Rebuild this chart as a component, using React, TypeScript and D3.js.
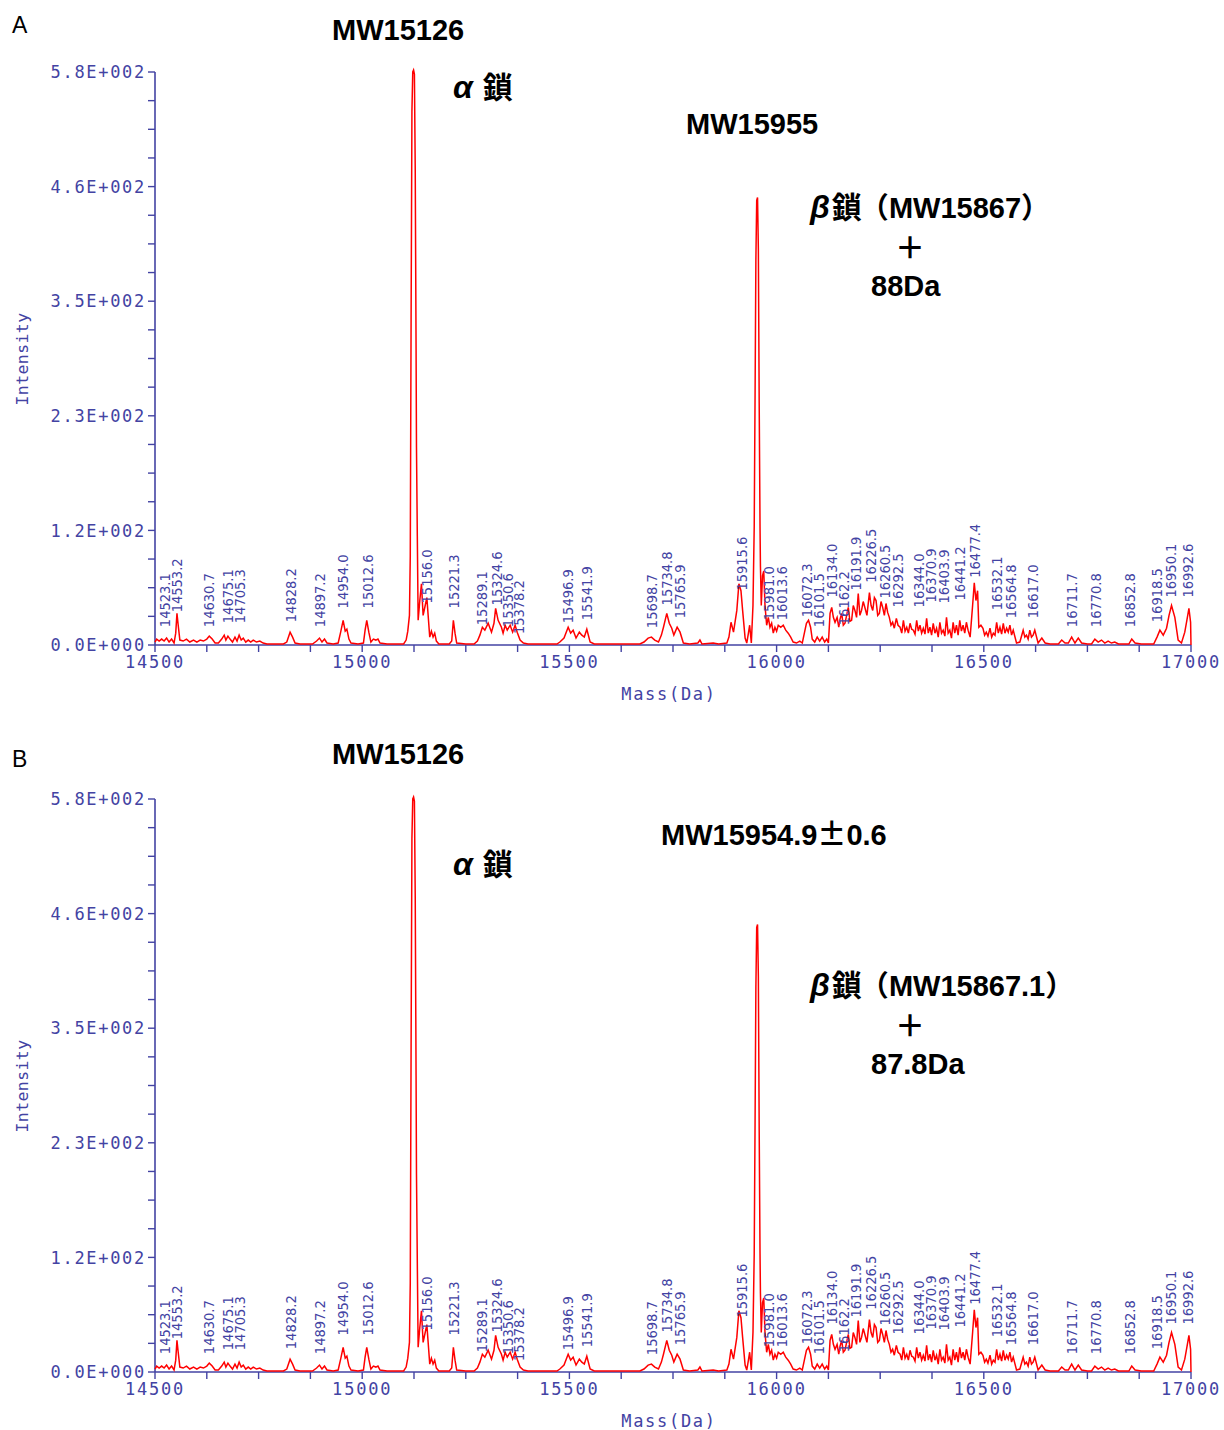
import React from "react";
import * as d3 from "d3";

// mass spectrum profile, [mass (Da), intensity]
const massProfile: [number, number][] = [
  [14500, 3], [14504, 6], [14510, 4], [14516, 6], [14522, 4], [14528, 7], [14534, 3],
  [14540, 6], [14546, 2], [14550, 12], [14553, 32], [14556, 20], [14560, 5], [14568, 4],
  [14576, 6], [14584, 3], [14593, 5], [14601, 3], [14609, 5], [14617, 4], [14625, 6],
  [14631, 9], [14638, 6], [14645, 2], [14653, 2], [14661, 6], [14667, 10], [14671, 5],
  [14676, 9], [14681, 6], [14687, 3], [14693, 8], [14698, 4], [14703, 10], [14708, 5],
  [14713, 7], [14719, 3], [14725, 5], [14731, 3], [14737, 5], [14745, 3], [14753, 4],
  [14761, 2], [14770, 1], [14790, 1], [14810, 1], [14818, 3], [14826, 13], [14832, 8],
  [14838, 2], [14850, 1], [14880, 1], [14890, 4], [14897, 7], [14903, 3], [14909, 6],
  [14915, 2], [14930, 1], [14942, 2], [14948, 13], [14954, 25], [14959, 14], [14963, 16],
  [14968, 6], [14973, 2], [14990, 1], [15003, 2], [15007, 15], [15011, 25], [15016, 13],
  [15021, 3], [15027, 6], [15033, 5], [15038, 6], [15043, 2], [15060, 1], [15080, 1],
  [15100, 1], [15106, 5], [15110, 14], [15114, 30], [15116, 90], [15118, 330], [15120, 540],
  [15122, 580], [15124, 582], [15126, 578], [15128, 480], [15130, 300], [15131, 200],
  [15133, 110], [15135, 25], [15139, 45], [15143, 62], [15147, 30], [15152, 40], [15156, 48],
  [15160, 25], [15163, 8], [15167, 14], [15171, 8], [15175, 12], [15179, 4], [15185, 1],
  [15210, 1], [15216, 4], [15220, 25], [15224, 12], [15228, 2], [15250, 1], [15270, 1],
  [15278, 4], [15284, 10], [15290, 18], [15296, 15], [15304, 22], [15312, 13], [15318, 22],
  [15322, 37], [15328, 25], [15336, 18], [15340, 12], [15345, 20], [15350, 15], [15357, 20],
  [15363, 13], [15369, 20], [15374, 13], [15381, 5], [15389, 2], [15400, 1], [15470, 1],
  [15477, 3], [15487, 7], [15497, 18], [15503, 12], [15509, 15], [15516, 7], [15524, 13],
  [15530, 10], [15536, 8], [15542, 16], [15550, 3], [15560, 1], [15670, 1], [15680, 3],
  [15690, 7], [15698, 8], [15706, 5], [15715, 3], [15722, 10], [15727, 18], [15735, 32],
  [15741, 22], [15747, 17], [15752, 10], [15755, 13], [15760, 18], [15767, 13], [15775, 2],
  [15790, 1], [15810, 2], [15815, 5], [15820, 1], [15847, 2], [15860, 1], [15880, 2],
  [15885, 8], [15890, 23], [15896, 13], [15904, 35], [15909, 62], [15914, 55], [15918, 35],
  [15924, 7], [15928, 2], [15932, 12], [15935, 20], [15939, 2], [15943, 40], [15946, 120],
  [15948, 250], [15950, 390], [15952, 450], [15954, 453], [15956, 400], [15958, 245],
  [15960, 120], [15961, 80], [15963, 40], [15966, 70], [15969, 75], [15972, 40], [15976, 20],
  [15980, 28], [15984, 18], [15988, 22], [15992, 12], [15996, 18], [16000, 14], [16004, 20],
  [16010, 18], [16016, 20], [16022, 15], [16028, 12], [16034, 8], [16040, 3], [16048, 2],
  [16056, 4], [16062, 2], [16068, 14], [16072, 22], [16077, 25], [16082, 18], [16086, 6],
  [16092, 3], [16098, 8], [16104, 4], [16110, 8], [16116, 3], [16121, 6], [16125, 2],
  [16129, 32], [16133, 38], [16137, 28], [16141, 23], [16146, 28], [16150, 18], [16153, 26],
  [16157, 32], [16161, 20], [16165, 22], [16169, 30], [16173, 38], [16177, 24], [16181, 25],
  [16185, 40], [16189, 35], [16193, 28], [16197, 52], [16201, 30], [16205, 35], [16209, 44],
  [16213, 38], [16218, 30], [16224, 53], [16228, 40], [16232, 35], [16236, 48], [16240, 45],
  [16244, 30], [16248, 32], [16252, 44], [16256, 38], [16260, 30], [16264, 42], [16268, 33],
  [16272, 28], [16276, 20], [16280, 23], [16284, 17], [16289, 27], [16293, 20], [16298, 18],
  [16302, 12], [16306, 25], [16310, 14], [16314, 18], [16318, 12], [16322, 22], [16326, 16],
  [16330, 15], [16334, 11], [16338, 25], [16342, 14], [16346, 20], [16350, 12], [16354, 17],
  [16358, 11], [16362, 27], [16366, 12], [16370, 18], [16374, 10], [16378, 22], [16382, 12],
  [16386, 17], [16390, 8], [16394, 23], [16398, 12], [16402, 15], [16406, 9], [16410, 28],
  [16414, 12], [16418, 15], [16422, 7], [16426, 23], [16430, 12], [16434, 20], [16438, 10],
  [16442, 25], [16446, 14], [16450, 20], [16454, 12], [16458, 23], [16462, 15], [16467, 8],
  [16473, 40], [16477, 63], [16481, 45], [16485, 55], [16488, 18], [16493, 20], [16498, 17],
  [16502, 10], [16506, 13], [16510, 9], [16515, 17], [16519, 8], [16523, 12], [16527, 10],
  [16531, 23], [16535, 12], [16539, 18], [16543, 11], [16547, 22], [16551, 12], [16555, 17],
  [16559, 13], [16563, 20], [16567, 10], [16571, 15], [16579, 2], [16587, 3], [16595, 15],
  [16599, 8], [16603, 10], [16607, 6], [16611, 15], [16615, 8], [16619, 10], [16623, 15],
  [16631, 2], [16640, 7], [16648, 2], [16660, 1], [16680, 1], [16688, 5], [16696, 2],
  [16704, 2], [16712, 8], [16720, 2], [16728, 7], [16736, 2], [16750, 1], [16760, 1],
  [16768, 6], [16776, 3], [16784, 5], [16792, 2], [16800, 4], [16808, 2], [16816, 3],
  [16825, 1], [16850, 1], [16857, 6], [16865, 2], [16880, 1], [16910, 1], [16918, 8],
  [16925, 15], [16933, 10], [16941, 17], [16947, 30], [16953, 40], [16961, 28], [16969, 5],
  [16977, 2], [16985, 13], [16990, 25], [16995, 37], [16999, 23], [17000, 0],
];

// peak labels: text, label anchor mass, label base intensity
const peakLabels: [string, number, number][] = [
  ["14523.1", 14523.1, 13], ["14553.2", 14553.2, 28], ["14630.7", 14630.7, 13],
  ["14675.1", 14675.1, 17], ["14705.3", 14705.3, 17], ["14828.2", 14828.2, 18],
  ["14897.2", 14897.2, 13], ["14954.0", 14954.0, 32], ["15012.6", 15012.6, 32],
  ["15156.0", 15156.0, 37], ["15221.3", 15221.3, 32], ["15289.1", 15289.1, 15],
  ["15324.6", 15324.6, 35], ["15350.6", 15350.6, 13], ["15378.2", 15378.2, 6],
  ["15496.9", 15496.9, 17], ["15541.9", 15541.9, 20], ["15698.7", 15698.7, 12],
  ["15734.8", 15734.8, 35], ["15765.9", 15765.9, 22], ["15915.6", 15915.6, 50],
  ["15981.0", 15981.0, 20], ["16013.6", 16013.6, 20], ["16072.3", 16072.3, 23],
  ["16101.5", 16101.5, 13], ["16134.0", 16134.0, 43], ["16162.2", 16162.2, 15],
  ["16191.9", 16191.9, 50], ["16226.5", 16226.5, 58], ["16260.5", 16260.5, 42],
  ["16292.5", 16292.5, 33], ["16344.0", 16344.0, 33], ["16370.9", 16370.9, 38],
  ["16403.9", 16403.9, 37], ["16441.2", 16441.2, 40], ["16477.4", 16477.4, 63],
  ["16532.1", 16532.1, 30], ["16564.8", 16564.8, 22], ["16617.0", 16617.0, 22],
  ["16711.7", 16711.7, 13], ["16770.8", 16770.8, 13], ["16852.8", 16852.8, 13],
  ["16918.5", 16918.5, 18], ["16950.1", 16950.1, 43], ["16992.6", 16992.6, 43],
];

const xMajorTicks = [14500, 15000, 15500, 16000, 16500, 17000];
const xTickLabels = ["14500", "15000", "15500", "16000", "16500", "17000"];
const yMajorTicks = [0, 116, 232, 348, 464, 580];
const yTickLabels = ["0.0E+000", "1.2E+002", "2.3E+002", "3.5E+002", "4.6E+002", "5.8E+002"];

const AXIS = "#4343a3";
const TRACE = "#ff0000";
const MONO = "'DejaVu Sans Mono', monospace";
const NARROW = "'DejaVu Sans Condensed', 'DejaVu Sans Mono', sans-serif";
const SANS = "'Liberation Sans', Arial, sans-serif";
const CJK = "'Noto Sans CJK JP', sans-serif";

const Panel = ({ top }: { top: number }) => {
  const x = d3.scaleLinear().domain([14500, 17000]).range([155, 1191]);
  const y = d3.scaleLinear().domain([0, 580]).range([top + 573, top]);
  const line = d3
    .line<[number, number]>()
    .x((d) => x(d[0]))
    .y((d) => y(d[1]));
  const y0 = y(0);
  const xMinor = d3.range(14500, 17001, 125);
  const yMinor = d3.range(0, 581, 29);

  return (
    <g>
      {/* x axis */}
      <line x1={x(14500)} x2={x(17000)} y1={y0} y2={y0} stroke={AXIS} strokeWidth={1.6} />
      {xMinor.map((t) => (
        <line key={"xm" + t} x1={x(t)} x2={x(t)} y1={y0} y2={y0 + 7} stroke={AXIS} strokeWidth={1.4} />
      ))}
      {xMajorTicks.map((t, i) => (
        <text key={"xl" + t} x={x(t)} y={y0 + 23} textAnchor="middle" fill={AXIS}
          fontFamily={MONO} fontSize={17} letterSpacing={1.8}>
          {xTickLabels[i]}
        </text>
      ))}
      <text x={669} y={y0 + 55} textAnchor="middle" fill={AXIS} fontFamily={MONO}
        fontSize={17} letterSpacing={1.7}>
        Mass(Da)
      </text>

      {/* y axis */}
      <line x1={155} x2={155} y1={y(580)} y2={y0} stroke={AXIS} strokeWidth={1.6} />
      {yMinor.map((t) => (
        <line key={"ym" + t} x1={148} x2={155} y1={y(t)} y2={y(t)} stroke={AXIS} strokeWidth={1.4} />
      ))}
      {yMajorTicks.map((t, i) => (
        <text key={"yl" + t} x={146} y={y(t)} dy="0.36em" textAnchor="end" fill={AXIS}
          fontFamily={MONO} fontSize={17} letterSpacing={1.7}>
          {yTickLabels[i]}
        </text>
      ))}
      <text transform={`translate(22,${top + 287}) rotate(-90)`} dy="0.36em" textAnchor="middle"
        fill={AXIS} fontFamily={MONO} fontSize={16.5} letterSpacing={0.4}>
        Intensity
      </text>

      {/* spectrum */}
      <path d={line(massProfile) ?? ""} fill="none" stroke={TRACE} strokeWidth={1.5}
        strokeLinejoin="miter" />

      {/* peak labels */}
      {peakLabels.map(([label, m, h]) => (
        <text key={label} transform={`translate(${x(m)},${y(h) - 5}) rotate(-90)`} dy="0.36em"
          fill={AXIS} fontFamily={NARROW} fontSize={14.5}>
          {label}
        </text>
      ))}
    </g>
  );
};

const Note = ({ x, y, children, size = 29 }: { x: number; y: number; children: React.ReactNode; size?: number }) => (
  <text x={x} y={y} dy="0.36em" fill="#000" fontFamily={SANS} fontWeight="bold" fontSize={size}>
    {children}
  </text>
);

const Chain = ({ x, y, greek, gap, rest }: { x: number; y: number; greek: string; gap: number; rest?: React.ReactNode }) => (
  <text x={x} y={y} dy="0.36em" fill="#000" fontFamily={SANS} fontWeight="bold" fontSize={29}>
    <tspan fontStyle="italic" fontSize={32}>{greek}</tspan>
    <tspan fontFamily={CJK} dx={gap} fontSize={30}>鎖</tspan>
    {rest}
  </text>
);

export default function App() {
  return (
    <svg width={1224} height={1430} style={{ position: "absolute", left: 0, top: 0, background: "#fff" }}>
      <rect width={1224} height={1430} fill="#fff" />
      <text x={12} y={25} dy="0.36em" fontFamily={SANS} fontSize={23} fill="#000">A</text>
      <text x={12} y={759} dy="0.36em" fontFamily={SANS} fontSize={23} fill="#000">B</text>

      <Panel top={72} />
      <Panel top={799} />

      {/* panel A notes */}
      <Note x={332} y={30}>MW15126</Note>
      <Chain x={453} y={88} greek="α" gap={10} />
      <Note x={686} y={124}>MW15955</Note>
      <Chain x={810} y={208} greek="β" gap={2}
        rest={<tspan fontFamily={CJK} dx={-2}>（<tspan fontFamily={SANS}>MW15867</tspan>）</tspan>} />
      <text x={910} y={247} dy="0.36em" textAnchor="middle" fontFamily={CJK} fontWeight="bold" fontSize={30}>＋</text>
      <Note x={871} y={286}>88Da</Note>

      {/* panel B notes */}
      <Note x={332} y={754}>MW15126</Note>
      <Note x={661} y={835}>
        MW15954.9<tspan fontFamily={CJK}>±</tspan>0.6
      </Note>
      <Chain x={453} y={865} greek="α" gap={10} />
      <Chain x={810} y={986} greek="β" gap={2}
        rest={<tspan fontFamily={CJK} dx={-2}>（<tspan fontFamily={SANS}>MW15867.1</tspan>）</tspan>} />
      <text x={910} y={1025} dy="0.36em" textAnchor="middle" fontFamily={CJK} fontWeight="bold" fontSize={30}>＋</text>
      <Note x={871} y={1064}>87.8Da</Note>
    </svg>
  );
}
